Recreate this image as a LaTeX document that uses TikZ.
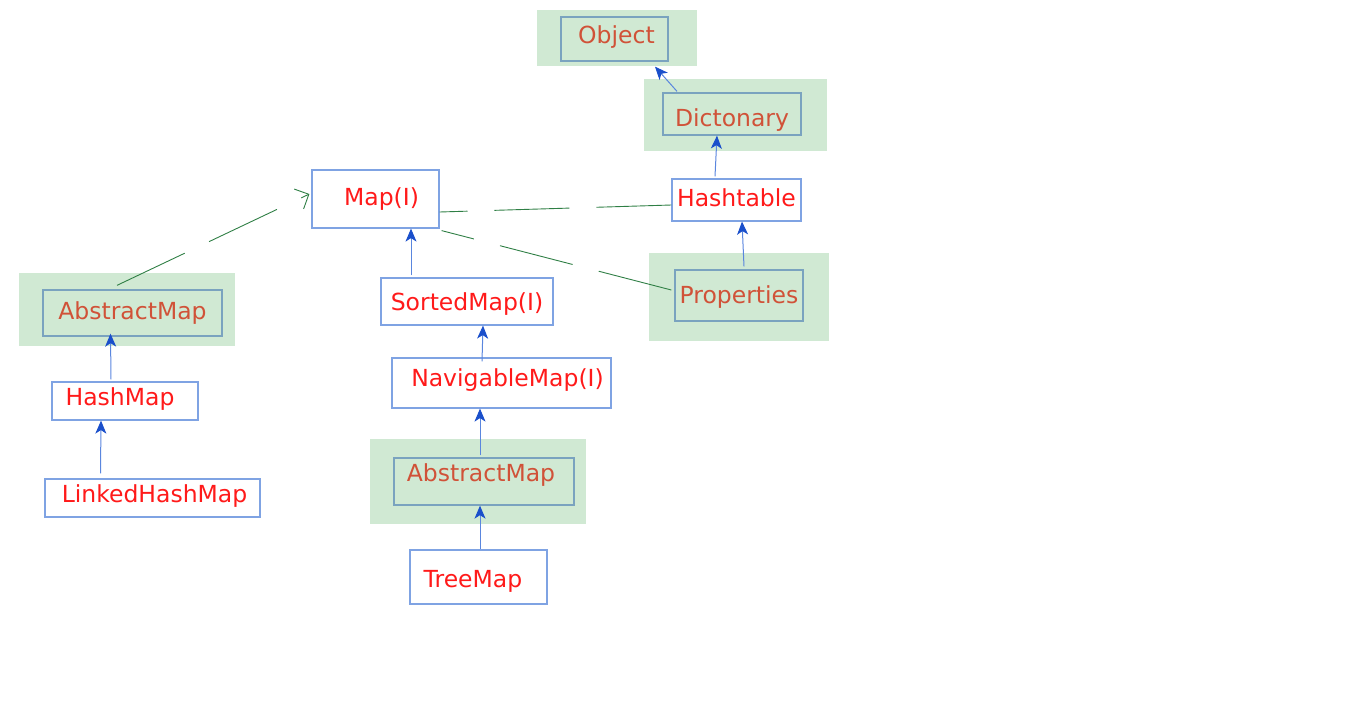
\documentclass[tikz,border=0pt]{standalone}
\usepackage{fontspec}
\setmainfont{DejaVu Sans}
\usetikzlibrary{arrows.meta}
\definecolor{boxblue}{HTML}{7FA3E3}
\definecolor{absblue}{HTML}{7AA3BF}
\definecolor{bggreen}{HTML}{D0E9D3}
\definecolor{classred}{HTML}{FF1A1A}
\definecolor{absred}{HTML}{D05238}
\definecolor{lineblue}{HTML}{5A86DE}
\definecolor{tipblue}{HTML}{1A4FCB}
\definecolor{dashgreen}{HTML}{2F7F45}
\tikzset{
  cls/.style={draw=boxblue, line width=1.2pt, fill=white, inner sep=0pt},
  bgbox/.style={fill=bggreen, inner sep=0pt},
  abscls/.style={draw=absblue, line width=1.3pt, inner sep=0pt},
  clstxt/.style={text=classred, inner sep=0pt},
  abstxt/.style={text=absred, inner sep=0pt},
  ext/.style={draw=lineblue, line width=1pt, -{Stealth[length=13pt,width=11pt,inset=3.5pt,color=tipblue]}},
  impl/.style={draw=dashgreen, line width=0.9pt, dash pattern=on 75pt off 27pt},
}
\begin{document}
\begin{tikzpicture}[x=1pt,y=-1pt,font=\fontsize{23.5}{27}\selectfont]
\useasboundingbox (0,0) rectangle (1366,705);
\node[bgbox, minimum width=160pt, minimum height=56pt] (objbg) at (617,38) {};
\node[abscls, minimum width=107pt, minimum height=44pt, label={[abstxt,xshift=2pt,yshift=2pt]center:Object}] (object) at (614.5,39) {};
\node[bgbox, minimum width=183pt, minimum height=72pt] (dictbg) at (735.5,115) {};
\node[abscls, minimum width=138pt, minimum height=42pt, label={[abstxt,yshift=-6pt]center:Dictonary}] (dict) at (732,114) {};
\node[cls, minimum width=127pt, minimum height=58pt, label={[clstxt,xshift=6pt]center:Map(I)}] (map) at (375.5,199) {};
\node[cls, minimum width=129pt, minimum height=42pt, label={[clstxt,yshift=2pt]center:Hashtable}] (hashtable) at (736.5,200) {};
\node[bgbox, minimum width=180pt, minimum height=88pt] (propbg) at (739,297) {};
\node[abscls, minimum width=128pt, minimum height=51pt, label={[abstxt,yshift=-2pt]center:Properties}] (prop) at (739,295.5) {};
\node[bgbox, minimum width=216pt, minimum height=73pt] (absLbg) at (127,309.5) {};
\node[abscls, minimum width=179pt, minimum height=46pt, label={[abstxt]center:AbstractMap}] (absL) at (132.5,313) {};
\node[cls, minimum width=146pt, minimum height=38pt, label={[clstxt,xshift=-5pt,yshift=2pt]center:HashMap}] (hashmap) at (125,401) {};
\node[cls, minimum width=215pt, minimum height=38pt, label={[clstxt,xshift=2pt,yshift=2pt]center:LinkedHashMap}] (linked) at (152.5,498) {};
\node[cls, minimum width=172pt, minimum height=47pt, label={[clstxt,yshift=-3pt]center:SortedMap(I)}] (sorted) at (467,301.5) {};
\node[cls, minimum width=219pt, minimum height=50pt, label={[clstxt,xshift=6pt,yshift=3pt]center:NavigableMap(I)}] (navigable) at (501.5,383) {};
\node[bgbox, minimum width=216pt, minimum height=85pt] (absMbg) at (478,481.5) {};
\node[abscls, minimum width=180pt, minimum height=47pt, label={[abstxt,xshift=-3pt,yshift=6pt]center:AbstractMap}] (absM) at (484,481.5) {};
\node[cls, minimum width=137pt, minimum height=54pt, label={[clstxt,xshift=-5.5pt,yshift=-4pt]center:TreeMap}] (treemap) at (478.5,577) {};
% extends
\draw[ext] ([xshift=-52pt,yshift=5pt]linked.north) -- ([xshift=-24pt]hashmap.south);
\draw[ext] ([xshift=-14pt,yshift=2pt]hashmap.north) -- ([xshift=-22pt,yshift=3pt]absL.south);
\draw[ext] ([xshift=1.5pt]treemap.north) -- ([xshift=-4pt]absM.south);
\draw[ext] ([xshift=-4pt,yshift=2pt]absM.north) -- ([xshift=-21.5pt]navigable.south);
\draw[ext] ([xshift=-19.5pt,yshift=-4pt]navigable.north) -- ([xshift=16pt]sorted.south);
\draw[ext] ([xshift=-56pt,yshift=2pt]sorted.north) -- ([xshift=35.5pt]map.south);
\draw[ext] ([xshift=5pt,yshift=3pt]prop.north) -- ([xshift=5.5pt]hashtable.south);
\draw[ext] ([xshift=-21.5pt,yshift=2pt]hashtable.north) -- ([xshift=-15pt]dict.south);
\draw[ext] ([xshift=-55pt,yshift=1pt]dict.north) -- ([xshift=40.5pt,yshift=-5pt]object.south);
% implements
\draw[impl, -{Straight Barb[length=11pt,width=22pt]}] ([xshift=-15.5pt,yshift=4pt]absL.north) -- ([xshift=-2pt,yshift=5pt]map.west);
\draw[impl] ([yshift=-5pt]hashtable.west) -- ([yshift=-13pt]map.east);
\draw[impl] ([xshift=-3pt,yshift=5.5pt]prop.west) -- ([xshift=2pt,yshift=-2pt]map.south east);
\end{tikzpicture}
\end{document}
